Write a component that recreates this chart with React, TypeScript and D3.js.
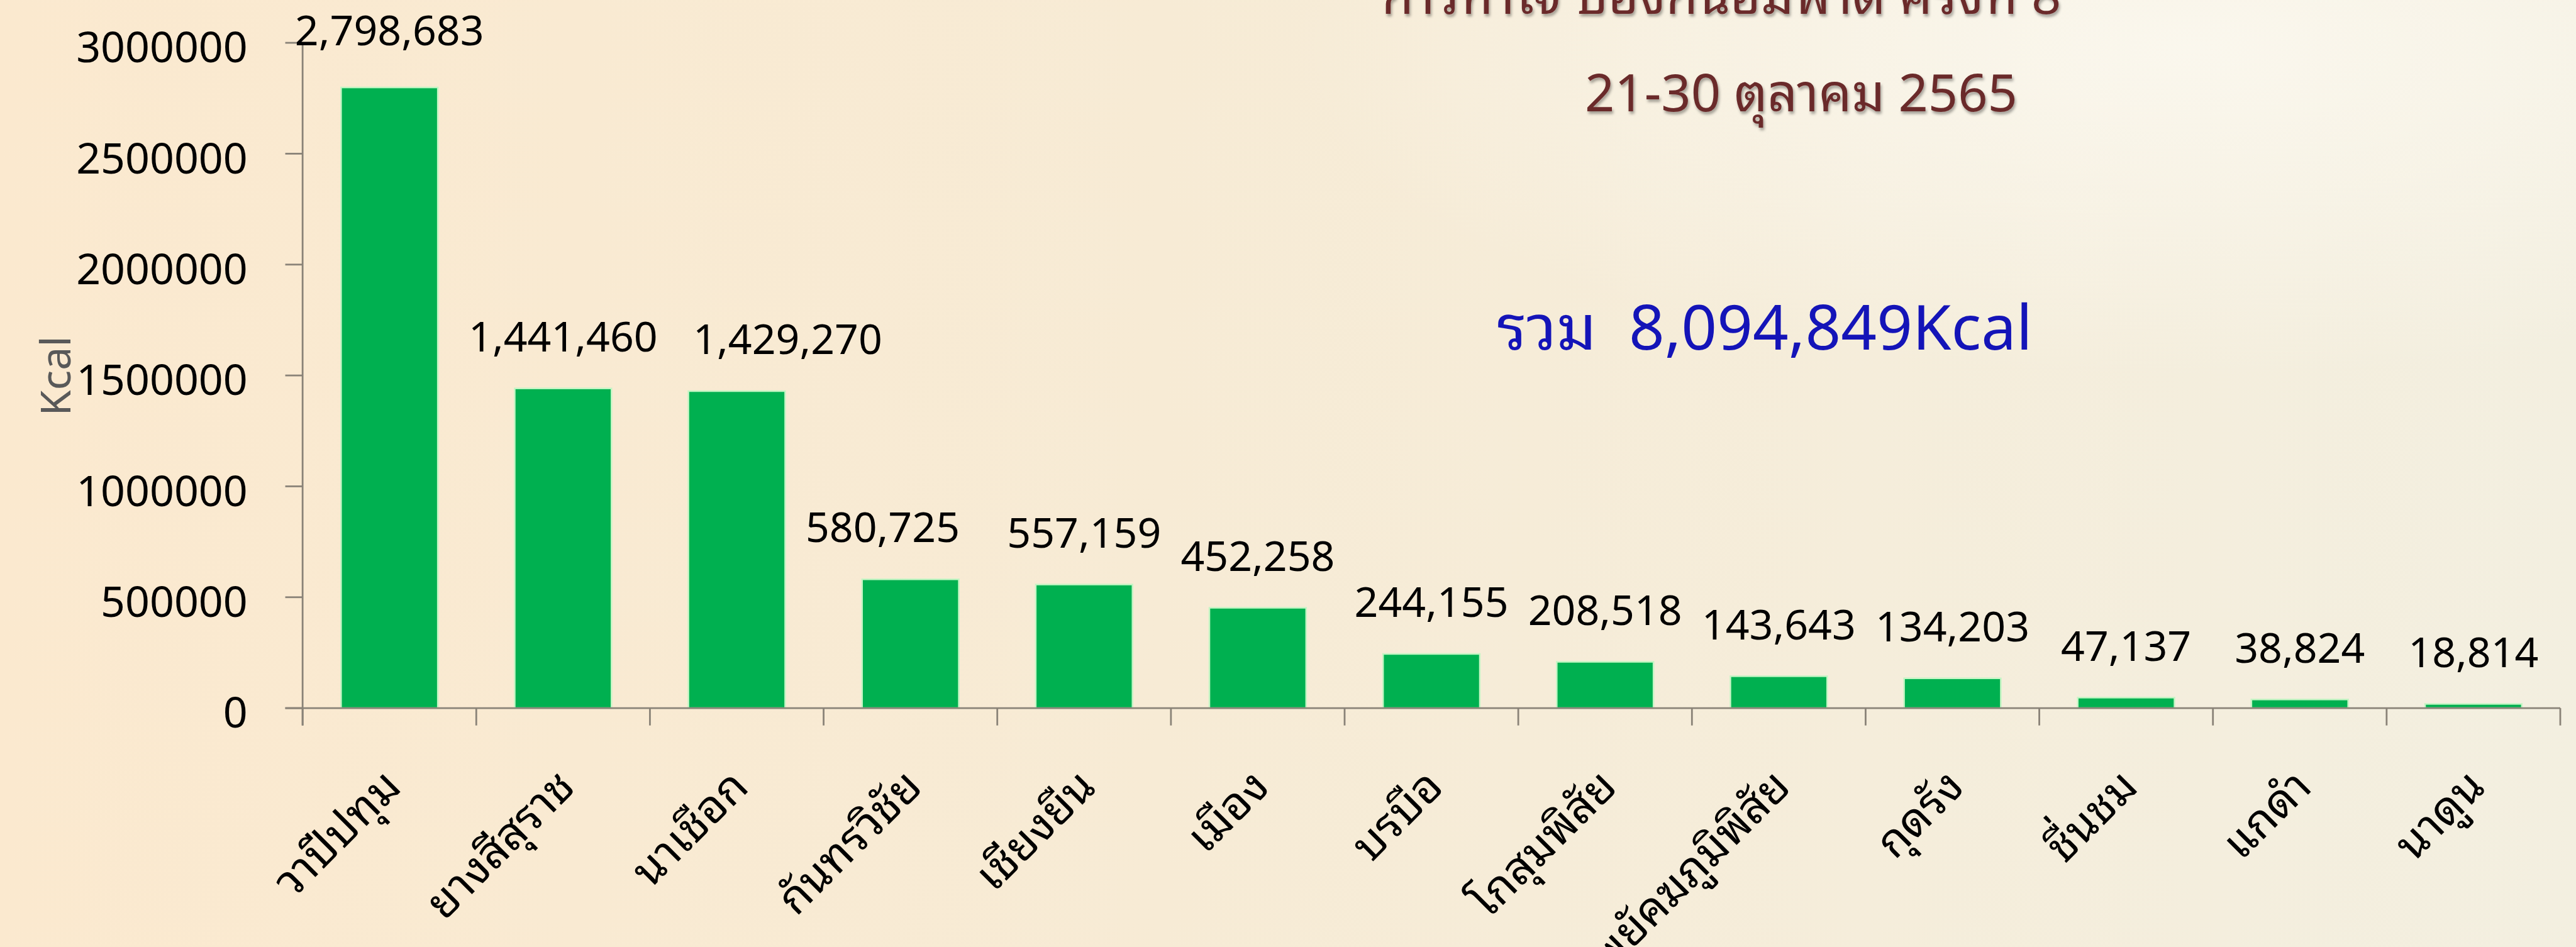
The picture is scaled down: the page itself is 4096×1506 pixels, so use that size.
import React, { useEffect } from 'react';
import * as d3 from 'd3';

const categories = [
  'วาปีปทุม', 'ยางสีสุราช', 'นาเชือก', 'กันทรวิชัย', 'เชียงยืน', 'เมือง', 'บรบือ',
  'โกสุมพิสัย', 'พยัคฆภูมิพิสัย', 'กุดรัง', 'ชื่นชม', 'แกดำ', 'นาดูน',
];
const values = [2798683, 1441460, 1429270, 580725, 557159, 452258, 244155, 208518, 143643, 134203, 47137, 38824, 18814];
const yTicks = [0, 500000, 1000000, 1500000, 2000000, 2500000, 3000000];
const yAxisTitle = 'Kcal';
const titleText = 'ก้าวท้าใจ ป้องกันอัมพาต ครั้งที่ 8';
const dateText = '21-30 ตุลาคม 2565';
const totalText = 'รวม  8,094,849Kcal';

// manual nudges of individual data labels (as in the original slide), in reference px
const labelNudgeX = [0, 0, 88, -48, 0, 0, 0, 0, 0, 0, 0, 0, 0];
const labelNudgeY = [-9, 0, 0, 0, 0, 0, 0, 0, 0, 0, 0, 0, 0];

const FONT = "Tahoma, 'Noto Sans', 'Noto Sans Thai', 'DejaVu Sans', sans-serif";
const THAI_FONT =
  "'Noto Sans Thai Looped', Loma, Garuda, 'Noto Serif Thai', Tahoma, 'Noto Sans', 'Noto Sans Thai', sans-serif";

export default function App() {
  useEffect(() => {
    document.body.style.margin = '0';
    document.body.style.overflow = 'hidden';
  }, []);
  const S = 0.92;
  const W = 4096;
  const H = 1506;
  const x = d3
    .scaleBand<string>()
    .domain(categories)
    .range([523 * S, 4425 * S])
    .paddingInner(0.443)
    .paddingOuter(0.2215);
  const y = d3.scaleLinear().domain([0, 3000000]).range([1224 * S, 74 * S]);
  const fmt = d3.format(',');
  const y0 = y(0);
  const axisX = x.range()[0];
  const axisEnd = x.range()[1];
  const tick = 30 * S;
  const axisColor = '#8a8378';
  const step = x.step();
  const boundaries = d3.range(categories.length + 1).map((i) => axisX + i * step);

  return (
    <svg width={W} height={H} style={{ position: 'fixed', left: 0, top: 0 }} fontFamily={FONT}>
      <defs>
        <linearGradient id="bg" x1="0" y1="0" x2="1" y2="0">
          <stop offset="0%" stopColor="#fbe9cf" />
          <stop offset="45%" stopColor="#f7ebd5" />
          <stop offset="100%" stopColor="#f3efe0" />
        </linearGradient>
        <radialGradient id="glow" cx="0.85" cy="0.05" r="0.35">
          <stop offset="0%" stopColor="#fbf8ef" stopOpacity="0.9" />
          <stop offset="100%" stopColor="#fbf8ef" stopOpacity="0" />
        </radialGradient>
        <filter id="shadow" x="-5%" y="-50%" width="110%" height="200%">
          <feDropShadow dx="2" dy="4" stdDeviation="2" floodColor="#000" floodOpacity="0.35" />
        </filter>
      </defs>
      <rect x={0} y={0} width={W} height={H} fill="url(#bg)" />
      <rect x={0} y={0} width={W} height={H} fill="url(#glow)" />

      {/* titles */}
      <text x={2975 * S} y={24 * S} textAnchor="middle" fontSize={90 * S} fill="#6b2b2b" filter="url(#shadow)" fontFamily={THAI_FONT}>
        {titleText}
      </text>
      <text x={3113 * S} y={192 * S} textAnchor="middle" fontSize={90 * S} fill="#6b2b2b" filter="url(#shadow)" fontFamily={THAI_FONT}>
        {dateText}
      </text>
      <text x={3050 * S} y={604 * S} textAnchor="middle" fontSize={108 * S} fill="#1414b8" style={{ whiteSpace: 'pre' }} fontFamily={THAI_FONT}>
        {totalText}
      </text>

      {/* y-axis title */}
      <text
        transform={`translate(${93 * S},${650 * S}) rotate(-90)`}
        textAnchor="middle"
        dominantBaseline="central"
        fontSize={72 * S}
        fill="#595959"
      >
        {yAxisTitle}
      </text>

      {/* bars */}
      {categories.map((c, i) => (
        <rect
          key={c}
          x={x(c)}
          y={y(values[i])}
          width={x.bandwidth()}
          height={y0 - y(values[i])}
          fill="#00b050"
          stroke="#c4f5c4"
          strokeWidth={2.5}
        />
      ))}

      {/* axes */}
      <line x1={axisX} x2={axisX} y1={y(3000000)} y2={y0 + tick} stroke={axisColor} strokeWidth={2.8} />
      <line x1={axisX - tick} x2={axisEnd} y1={y0} y2={y0} stroke={axisColor} strokeWidth={2.8} />
      {yTicks.map((t) => (
        <g key={t}>
          <line x1={axisX - tick} x2={axisX} y1={y(t)} y2={y(t)} stroke={axisColor} strokeWidth={2.8} />
          <text
            x={axisX - tick - 65 * S}
            y={y(t) + 5 * S}
            textAnchor="end"
            dominantBaseline="central"
            fontSize={74 * S}
            fill="#000"
          >
            {t}
          </text>
        </g>
      ))}
      {boundaries.map((bx, i) => (
        <line key={i} x1={bx} x2={bx} y1={y0} y2={y0 + tick} stroke={axisColor} strokeWidth={2.8} />
      ))}

      {/* data labels */}
      {categories.map((c, i) => (
        <text
          key={c}
          x={(x(c) as number) + x.bandwidth() / 2 + labelNudgeX[i] * S}
          y={y(values[i]) - 64 * S + labelNudgeY[i] * S}
          textAnchor="middle"
          fontSize={72 * S}
          fill="#000"
        >
          {fmt(values[i])}
        </text>
      ))}

      {/* category labels */}
      {categories.map((c) => {
        const cx = (x(c) as number) + x.bandwidth() / 2 + 24 * S;
        const cy = 1364 * S;
        return (
          <text
            key={c}
            transform={`translate(${cx},${cy}) rotate(-45)`}
            textAnchor="end"
            fontSize={78 * S}
            fill="#000"
            fontFamily={THAI_FONT}
          >
            {c}
          </text>
        );
      })}
    </svg>
  );
}
